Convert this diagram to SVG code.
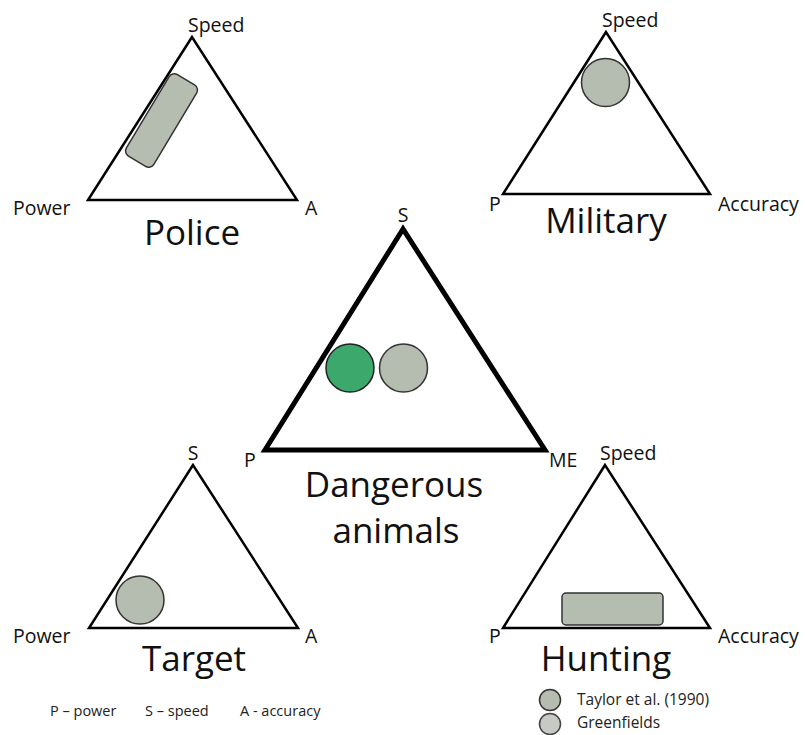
<svg xmlns="http://www.w3.org/2000/svg" width="805" height="735" viewBox="0 0 805 735">
<style>
.tri{fill:none;stroke:#000;stroke-width:2.5;stroke-linejoin:miter}
.trib{fill:none;stroke:#000;stroke-width:5;stroke-linejoin:miter}
.lbl{font-family:"Open Sans","Liberation Sans",sans-serif;font-size:19.5px;fill:#111}
.title{font-family:"Open Sans","Liberation Sans",sans-serif;font-size:35px;fill:#111;text-anchor:middle}
.small{font-family:"Open Sans","Liberation Sans",sans-serif;font-size:14.5px;fill:#222}
.src{font-family:"Open Sans","Liberation Sans",sans-serif;font-size:15.5px;fill:#222}
.gray{fill:#b5bcb0;stroke:#333;stroke-width:1.5}
.green{fill:#3ca86c;stroke:#222;stroke-width:1.5}
.lgray{fill:#c6c9c4;stroke:#444;stroke-width:1.5}
</style>
<rect width="805" height="735" fill="#fff"/>
<g id="police">
<polygon class="tri" points="192,37 88,200 297,200"/>
<rect class="gray" x="-16" y="-47.5" width="32" height="95" rx="6" transform="translate(161.5,120.5) rotate(31)"/>
<text class="lbl" x="188" y="32">Speed</text>
<text class="lbl" x="13" y="215">Power</text>
<text class="lbl" x="305" y="215">A</text>
<text class="title" x="192" y="245">Police</text>
</g>
<g id="military">
<polygon class="tri" points="606,32 503,194 710,194"/>
<circle class="gray" cx="605.5" cy="82.5" r="24"/>
<text class="lbl" x="602" y="27">Speed</text>
<text class="lbl" x="489" y="211">P</text>
<text class="lbl" x="718" y="211">Accuracy</text>
<text class="title" x="606" y="233">Military</text>
</g>
<g id="dangerous">
<polygon class="trib" points="403,229 265,450 545,450"/>
<circle class="green" cx="350" cy="368" r="24"/>
<circle class="gray" cx="403.5" cy="368" r="24"/>
<text class="lbl" x="403" y="222" text-anchor="middle">S</text>
<text class="lbl" x="244" y="467">P</text>
<text class="lbl" x="549" y="467">ME</text>
<text class="title" x="394" y="497">Dangerous</text>
<text class="title" x="396" y="543">animals</text>
</g>
<g id="target">
<polygon class="tri" points="193,465 89,628 298,628"/>
<circle class="gray" cx="140" cy="600" r="24"/>
<text class="lbl" x="193" y="460" text-anchor="middle">S</text>
<text class="lbl" x="13" y="643">Power</text>
<text class="lbl" x="305" y="643">A</text>
<text class="title" x="194" y="671">Target</text>
</g>
<g id="hunting">
<polygon class="tri" points="605,465 503,628 710,628"/>
<rect class="gray" x="562" y="593" width="101" height="32" rx="4"/>
<text class="lbl" x="600" y="460">Speed</text>
<text class="lbl" x="489" y="643">P</text>
<text class="lbl" x="718" y="643">Accuracy</text>
<text class="title" x="606" y="671">Hunting</text>
</g>
<g id="legend-axes">
<text class="small" x="50" y="716">P – power</text>
<text class="small" x="145" y="716">S – speed</text>
<text class="small" x="240" y="716">A - accuracy</text>
</g>
<g id="legend-sources">
<circle class="gray" cx="550" cy="700" r="10.5"/>
<circle class="lgray" cx="550" cy="724" r="10.5"/>
<text class="src" x="577" y="705">Taylor et al. (1990)</text>
<text class="src" x="577" y="728">Greenfields</text>
</g>
</svg>
